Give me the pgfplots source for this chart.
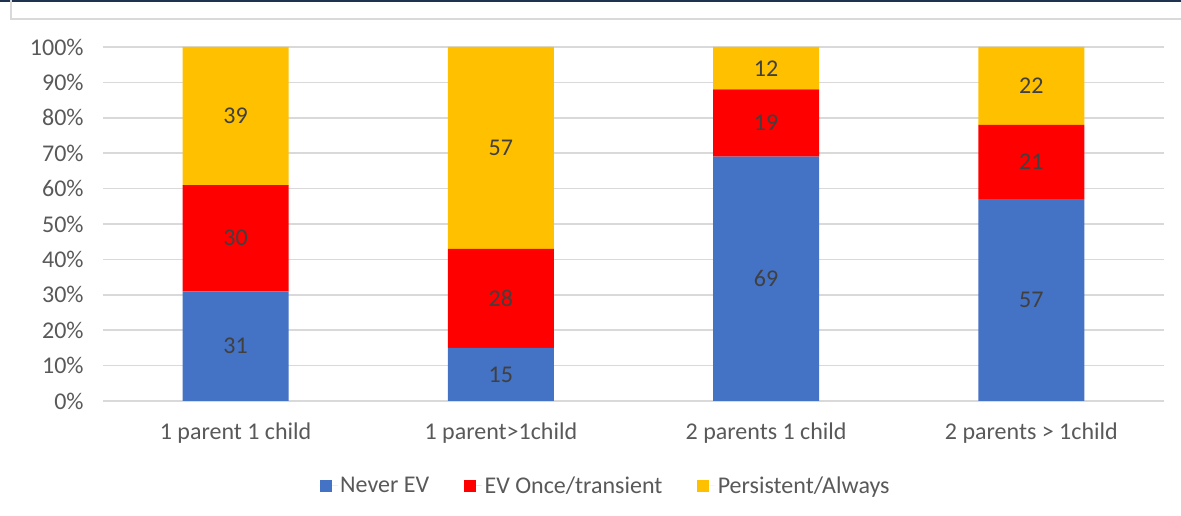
\documentclass[border=0pt]{standalone}
\usepackage{pgfplots}
\pgfplotsset{compat=1.18}
\usepackage{fontspec}
\setmainfont{Carlito}
\definecolor{evblue}{HTML}{4472C4}
\definecolor{evred}{HTML}{FF0000}
\definecolor{evyellow}{HTML}{FFC000}
\definecolor{gridgray}{HTML}{D9D9D9}
\definecolor{txtgray}{HTML}{595959}
\definecolor{lblgray}{HTML}{404040}
\definecolor{navy}{HTML}{1F3250}

\pgfplotsset{/pgf/number format/assume math mode=true}
\newcommand{\chartfont}{\fontsize{18}{21.6}\selectfont}
% legend square with some room before the text
\newcommand{\legsquare}[1]{\fill[#1] (0pt,-4.5pt) rectangle (9pt,4.5pt);
  \path (0pt,0pt) -- (13.5pt,0pt);}

\begin{document}
\begin{tikzpicture}
\useasboundingbox (0,0) rectangle (885.75pt,387pt);
\draw[navy, line width=1.5pt] (0,386.25pt) -- (885.75pt,386.25pt);
\draw[gridgray, line width=1.5pt] (7.9pt,387pt) -- (7.9pt,373.1pt) -- (885.75pt,373.1pt);
\begin{axis}[
  at={(77.25pt,86.25pt)}, anchor=south west,
  scale only axis, width=795.75pt, height=265.5pt,
  ybar stacked, bar width=79.5pt,
  xmin=-0.5, xmax=3.5, ymin=0, ymax=100,
  xtick={0,1,2,3},
  xticklabels={1 parent 1 child, 1 parent>1child, 2 parents 1 child, 2 parents > 1child},
  ytick={0,10,...,100},
  yticklabels={0\%,10\%,20\%,30\%,40\%,50\%,60\%,70\%,80\%,90\%,100\%},
  axis line style={draw=none},
  major tick length=0pt,
  ymajorgrids, grid style={gridgray, line width=1.1pt},
  tick label style={font=\chartfont, text=txtgray},
  xticklabel style={yshift=-13pt},
  yticklabel style={xshift=-11pt},
  visualization depends on={rawy \as \rawy},
  nodes near coords={\pgfmathprintnumber{\rawy}},
  every node near coord/.append style={anchor=center, font=\chartfont, text=lblgray},
  legend columns=-1,
  legend style={at={(0.474,-0.24)}, anchor=center, draw=none, fill=none,
    font=\chartfont, text=txtgray,
    /tikz/every even column/.append style={column sep=24pt}},
]
\addplot[fill=evblue, draw=none, legend image code/.code={\legsquare{evblue}}]
  coordinates {(0,31) (1,15) (2,69) (3,57)};
\addplot[fill=evred, draw=none, legend image code/.code={\legsquare{evred}}]
  coordinates {(0,30) (1,28) (2,19) (3,21)};
\addplot[fill=evyellow, draw=none, legend image code/.code={\legsquare{evyellow}}]
  coordinates {(0,39) (1,57) (2,12) (3,22)};
\legend{Never EV, EV Once/transient, Persistent/Always}
\end{axis}
\end{tikzpicture}
\end{document}
